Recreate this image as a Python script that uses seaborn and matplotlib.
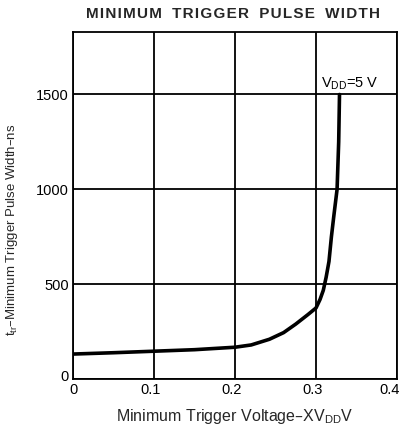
import matplotlib
matplotlib.use("Agg")
import matplotlib.pyplot as plt
import matplotlib.transforms as mtransforms
import seaborn as sns
import pandas as pd

# values (V_DD = 5 V)
trigger_voltage = [0.0, 0.05, 0.1, 0.15, 0.2, 0.22, 0.2425, 0.26, 0.275, 0.29,
                   0.3, 0.305, 0.309, 0.3125, 0.316, 0.319, 0.322, 0.326, 0.328, 0.329]
pulse_width = [132, 139, 147, 155, 168, 180, 210, 245, 290, 340,
               375, 420, 468, 537, 620, 750, 860, 1000, 1250, 1500]
x_ticks = [0, 0.1, 0.2, 0.3, 0.4]
x_tick_labels = ["0", "0.1", "0.2", "0.3", "0.4"]
y_ticks = [0, 500, 1000, 1500]
title = "MINIMUM TRIGGER PULSE WIDTH"

df = pd.DataFrame({"v": trigger_voltage, "t": pulse_width})

sns.set_style("whitegrid")
plt.rcParams["font.family"] = ["Liberation Sans", "DejaVu Sans"]

fig = plt.figure(figsize=(4.02, 4.25), dpi=100)
ax = fig.add_axes([0.1816, 0.108, 0.806, 0.817])

sns.lineplot(data=df, x="v", y="t", color="black", linewidth=2.6, ax=ax, sort=False)

ax.set_xlim(0, 0.4)
ax.set_ylim(0, 1830)
ax.set_xticks(x_ticks)
ax.set_xticklabels(x_tick_labels)
ax.set_yticks(y_ticks)
ax.grid(True, color="black", linewidth=1.3)
for s in ax.spines.values():
    s.set_color("black")
    s.set_linewidth(1.3)
ax.tick_params(length=0, labelsize=10.5, colors="black", pad=3)

# labels in the scan sit a little off their grid lines
xlabs = ax.get_xticklabels()
for lab, dx in zip(xlabs, [0, -3, -3, -3, -7]):
    lab.set_transform(lab.get_transform() + mtransforms.ScaledTranslation(dx / 100, 0, fig.dpi_scale_trans))
ylab0 = ax.get_yticklabels()[0]
ylab0.set_transform(ylab0.get_transform() + mtransforms.ScaledTranslation(0, 4 / 100, fig.dpi_scale_trans))

ax.set_xlabel(r"Minimum Trigger Voltage–XV$_\mathregular{DD}$V", fontsize=11.5, labelpad=7)
ax.set_ylabel(r"t$_\mathregular{tr}$–Minimum Trigger Pulse Width–ns", fontsize=9.5, labelpad=4)
ax.yaxis.set_label_coords(-0.165, 0.43)

spaced = "\u200a".join(title).replace("\u200a \u200a", "\u2009 \u2009")
ax.set_title(spaced, fontsize=11, fontweight="bold", pad=10, x=0.495)

ax.text(0.306, 1540, r"V$_\mathregular{DD}$=5 V", fontsize=10.5, color="black")

fig.savefig("out.png", dpi=100)
